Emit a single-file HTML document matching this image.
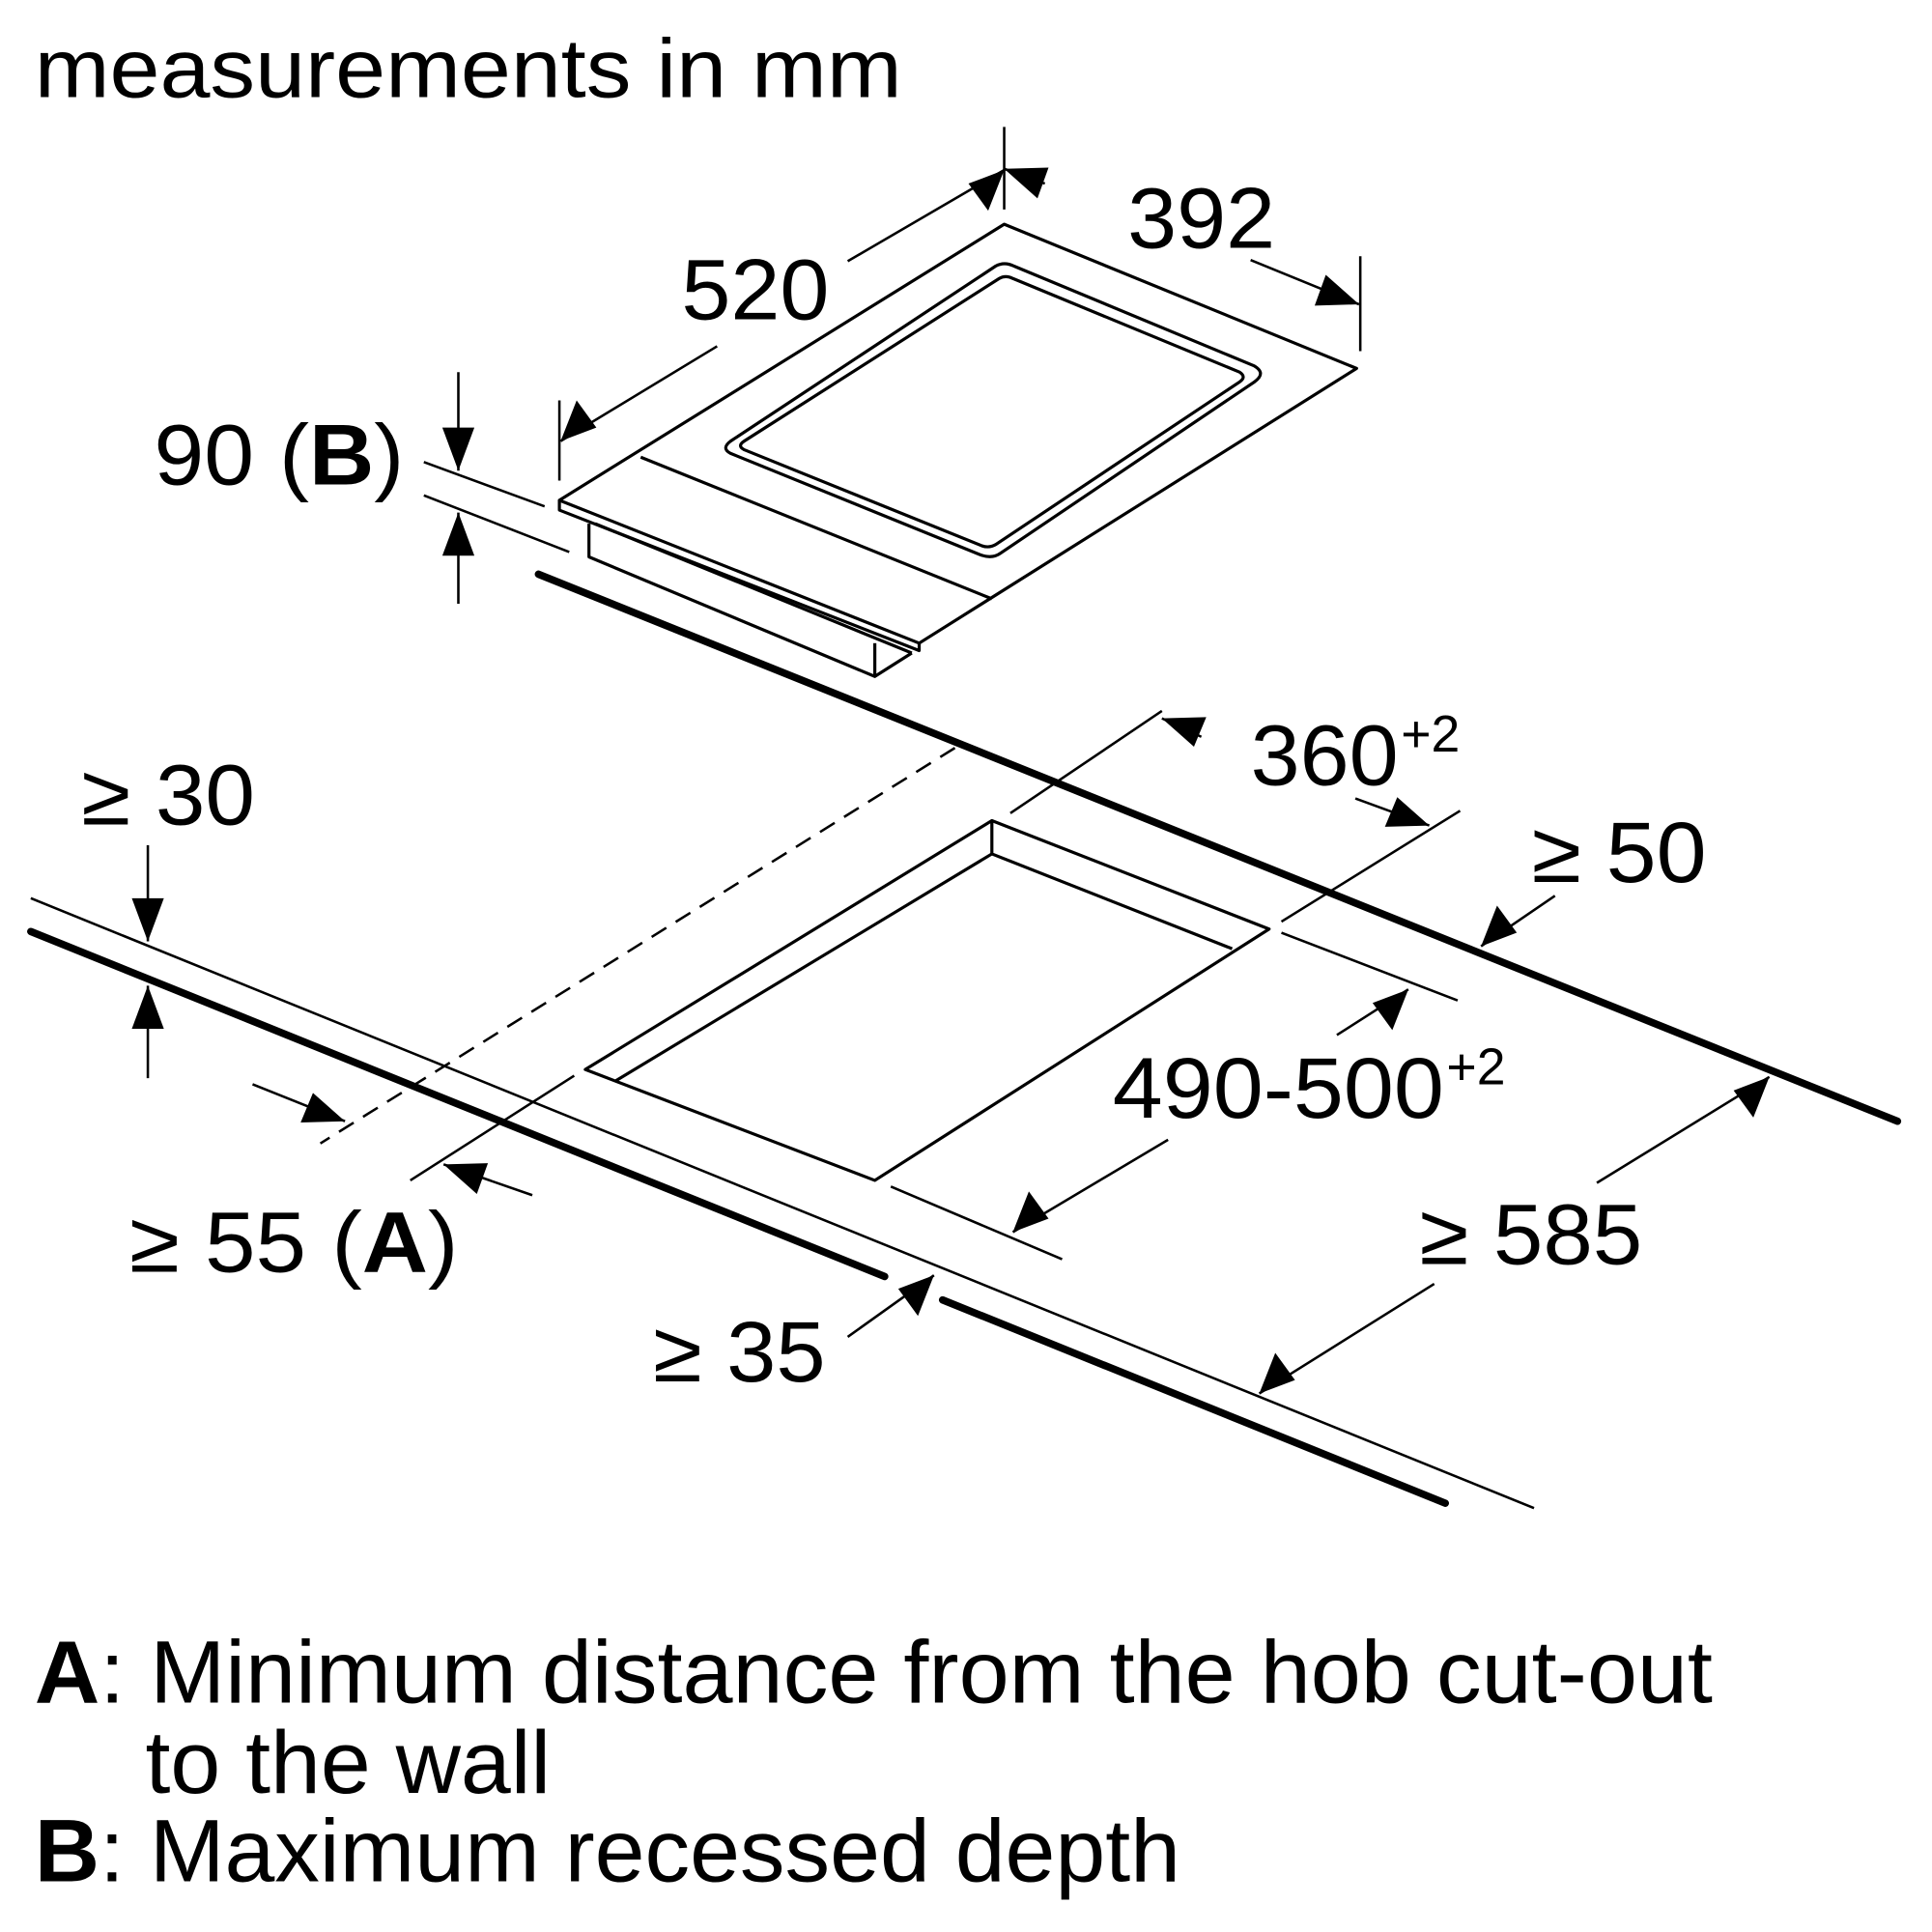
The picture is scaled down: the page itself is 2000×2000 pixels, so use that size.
<!DOCTYPE html>
<html><head><style>html,body{margin:0;padding:0;background:#fff}svg{display:block}</style></head>
<body>
<svg width="2000" height="2000" viewBox="0 0 1568 1568" xmlns="http://www.w3.org/2000/svg">
<style>
text{font-family:"Liberation Sans",sans-serif;fill:#000}
.t{stroke:#000;stroke-width:2;fill:none}
.k{stroke:#000;stroke-width:6;fill:none;stroke-linecap:round}
.m{stroke:#000;stroke-width:2.5;fill:none;stroke-linejoin:round}
</style>
<text x="28" y="79" font-size="68" textLength="704" lengthAdjust="spacingAndGlyphs">measurements in mm</text>

<!-- hob -->
<path class="m" d="M815,182 L1101,299 L746,522 L454,406 Z"/>
<path class="m" d="M454,406 L454,414 L746,528 L746,522"/>
<path class="m" d="M520,371 L805,486"/>
<path class="m" d="M478,425 L478,452 L710,549 L740,530"/>
<path class="m" d="M710,549 L710,522"/>
<path class="m" d="M483,425 L740,530"/>
<path class="m" d="M808,216 Q815,212 823,216 L1018,297 Q1028,303 1018,310 L812,449 Q805,454 795,450 L593,368 Q585,364 593,358 Z"/>
<path class="m" d="M811,226 Q816,223 822,226 L1006,302 Q1012,306 1006,310 L808,442 Q803,445 797,443 L604,365 Q598,362 604,358 Z"/>

<!-- surface lines -->
<path class="k" d="M437,466 L1540,910"/>
<path class="t" d="M25,729 L1245,1224" stroke-width="3"/>
<path class="k" d="M25,756 L718,1036"/>
<path class="k" d="M765,1055 L1173,1220"/>

<!-- cutout -->
<path class="m" d="M805,666 L1030,754 L710,958 L475,868 Z"/>
<path class="m" d="M805,666 L805,693 L1000,770"/>
<path class="m" d="M805,693 L500,877"/>

<!-- dashed & ext lines -->
<path class="t" d="M775,607 L260,928" stroke-dasharray="14,9"/>
<path class="t" d="M943,577 L820,660"/>
<path class="t" d="M1185,658 L1040,748"/>
<path class="t" d="M1040,757 L1183,812"/>
<path class="t" d="M723,963 L862,1022"/>
<path class="t" d="M466,873 L333,958"/>
<path class="t" d="M344,375 L442,411"/>
<path class="t" d="M344,402 L462,448"/>
<path class="t" d="M454,325 L454,390"/>
<path class="t" d="M815,103 L815,170"/>
<path class="t" d="M1104,208 L1104,285"/>

<!-- dimension lines -->
<g class="t">
<path d="M975,598 L943,583"/><path d="M1100,648 L1160,670"/>
<path d="M1085,840 L1143,803"/><path d="M948,925 L822,1000"/>
<path d="M1262,727 L1202,768"/>
<path d="M1296,960 L1436,874"/><path d="M1164,1042 L1022,1131"/>
<path d="M688,1085 L758,1035"/>
<path d="M205,880 L280,910"/><path d="M432,970 L360,945"/>
<path d="M120,686 L120,764"/><path d="M120,875 L120,800"/>
<path d="M372,302 L372,382"/><path d="M372,490 L372,416"/>
<path d="M582,281 L455,358"/><path d="M688,212 L815,138"/>
<path d="M848,149 L815,137"/><path d="M1015,211 L1103,247"/>
</g>
<!-- arrowheads -->
<g fill="#000">
<polygon points="943,583 979,582 969,606"/>
<polygon points="1160,670 1124,671 1134,647"/>
<polygon points="1143,803 1130,836 1114,814"/>
<polygon points="822,1000 835,967 851,989"/>
<polygon points="1202,768 1215,735 1231,757"/>
<polygon points="1436,874 1423,907 1407,885"/>
<polygon points="1022,1131 1035,1098 1051,1120"/>
<polygon points="758,1035 745,1068 729,1046"/>
<polygon points="280,910 244,911 254,887"/>
<polygon points="360,945 396,944 387,969"/>
<polygon points="120,764 107,729 133,729"/>
<polygon points="120,800 107,835 133,835"/>
<polygon points="372,382 359,347 385,347"/>
<polygon points="372,416 359,451 385,451"/>
<polygon points="455,358 468,325 484,347"/>
<polygon points="815,138 802,171 786,149"/>
<polygon points="815,137 851,136 842,161"/>
<polygon points="1103,247 1067,248 1076,223"/>
</g>

<!-- labels -->
<g font-size="70">
<text x="915" y="201" textLength="120" lengthAdjust="spacingAndGlyphs">392</text>
<text x="553" y="259" textLength="120" lengthAdjust="spacingAndGlyphs">520</text>
<text x="125" y="393" textLength="203" lengthAdjust="spacingAndGlyphs">90 (<tspan font-weight="bold">B</tspan>)</text>
<text x="1015" y="637" textLength="120" lengthAdjust="spacingAndGlyphs">360</text>
<text x="1137" y="610" font-size="42">+2</text>
<text x="1243" y="716" textLength="142" lengthAdjust="spacingAndGlyphs">≥ 50</text>
<text x="66" y="669" textLength="141" lengthAdjust="spacingAndGlyphs">≥ 30</text>
<text x="903" y="907" textLength="269" lengthAdjust="spacingAndGlyphs">490-500</text>
<text x="1174" y="880" font-size="42">+2</text>
<text x="1152" y="1026" textLength="181" lengthAdjust="spacingAndGlyphs">≥ 585</text>
<text x="105" y="1032" textLength="267" lengthAdjust="spacingAndGlyphs">≥ 55 (<tspan font-weight="bold">A</tspan>)</text>
<text x="530" y="1121" textLength="140" lengthAdjust="spacingAndGlyphs">≥ 35</text>
</g>
<g font-size="72">
<text x="28" y="1382" textLength="1362" lengthAdjust="spacingAndGlyphs"><tspan font-weight="bold">A</tspan>: Minimum distance from the hob cut-out</text>
<text x="118" y="1455" textLength="329" lengthAdjust="spacingAndGlyphs">to the wall</text>
<text x="28" y="1527" textLength="930" lengthAdjust="spacingAndGlyphs"><tspan font-weight="bold">B</tspan>: Maximum recessed depth</text>
</g>
</svg>
</body></html>
